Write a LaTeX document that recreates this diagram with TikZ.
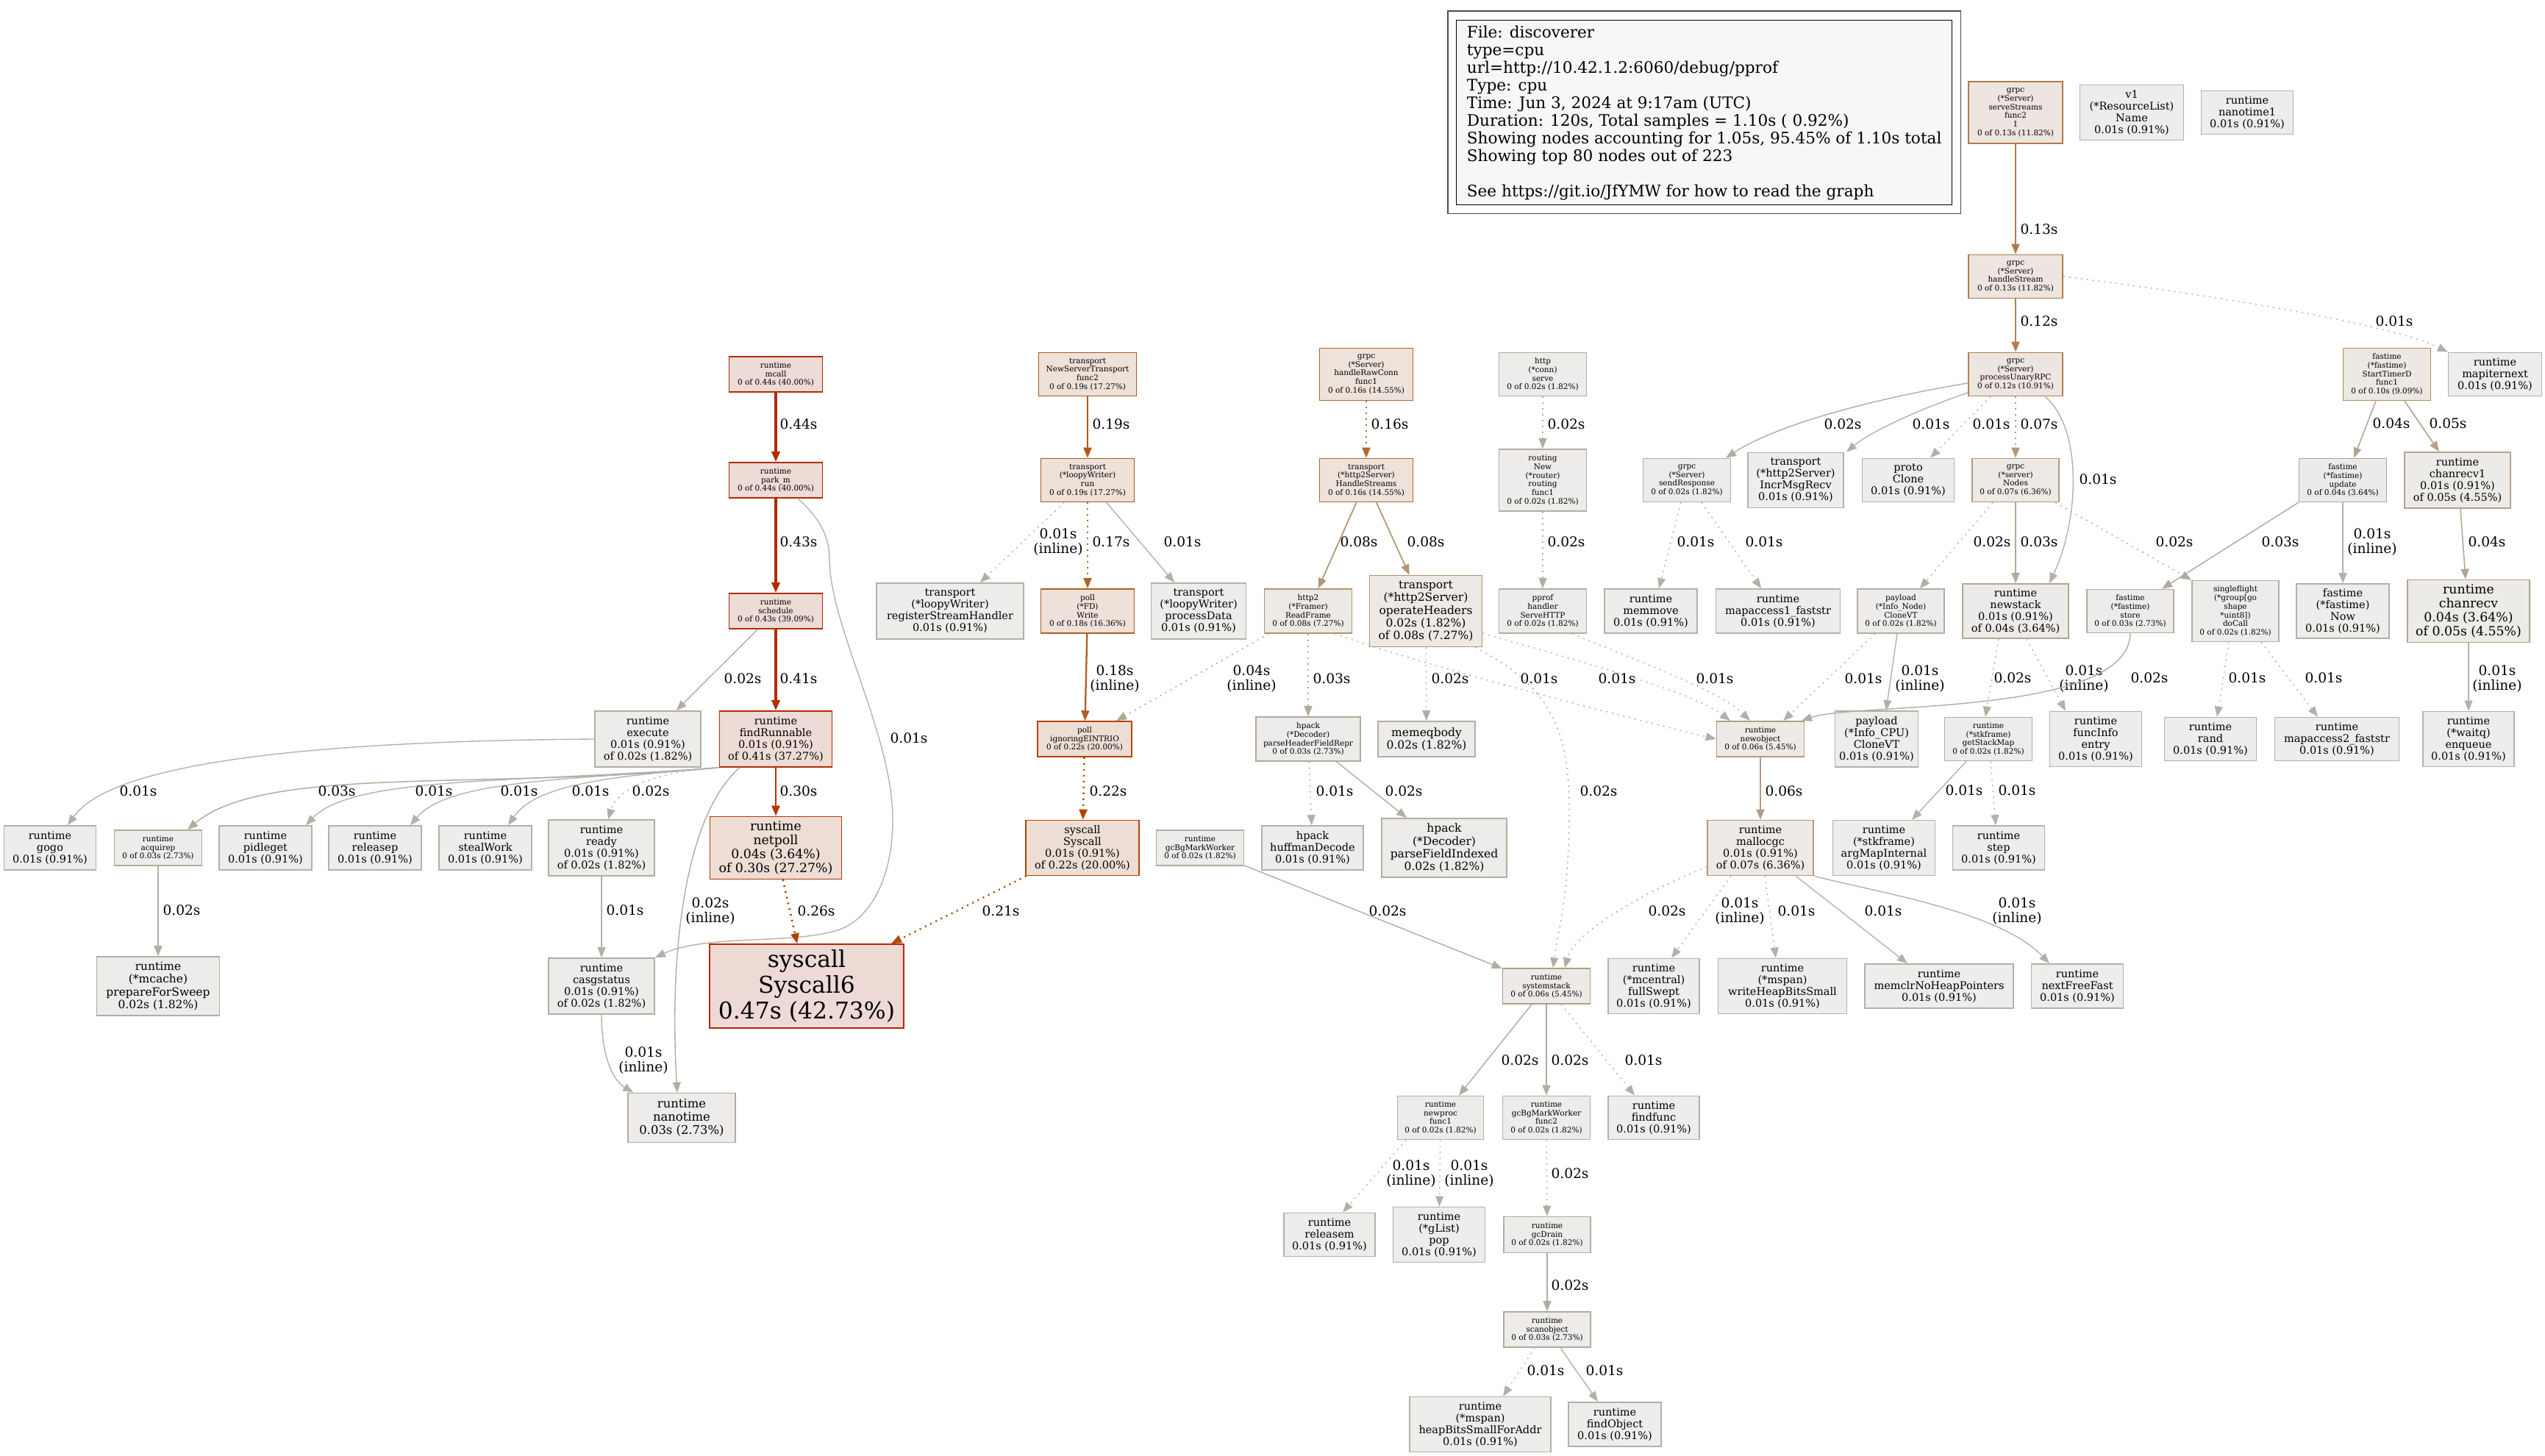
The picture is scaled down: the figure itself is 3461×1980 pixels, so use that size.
\documentclass[tikz,border=0pt]{standalone}
\usepackage{fontspec}
\setmainfont{DejaVu Serif}
\usepackage{xcolor}
\usepackage{tikz}
\usetikzlibrary{arrows.meta}
% heat scale: border / edge colours
\definecolor{fg1}{RGB}{178,176,170}
\definecolor{fg2}{RGB}{178,173,162}
\definecolor{fg3}{RGB}{178,170,154}
\definecolor{fg4}{RGB}{178,166,146}
\definecolor{fg5}{RGB}{178,162,138}
\definecolor{fg6}{RGB}{178,158,130}
\definecolor{fg7}{RGB}{178,153,121}
\definecolor{fg8}{RGB}{178,149,113}
\definecolor{fg10}{RGB}{178,139,97}
\definecolor{fg12}{RGB}{178,128,81}
\definecolor{fg13}{RGB}{178,123,73}
\definecolor{fg16}{RGB}{178,105,48}
\definecolor{fg17}{RGB}{178,99,40}
\definecolor{fg18}{RGB}{178,93,32}
\definecolor{fg19}{RGB}{178,87,24}
\definecolor{fg21}{RGB}{178,75,8}
\definecolor{fg22}{RGB}{178,68,0}
\definecolor{fg26}{RGB}{178,62,0}
\definecolor{fg30}{RGB}{178,57,0}
\definecolor{fg41}{RGB}{178,45,0}
\definecolor{fg43}{RGB}{178,43,0}
\definecolor{fg44}{RGB}{178,42,0}
\definecolor{fg47}{RGB}{178,40,0}
% heat scale: box fills
\definecolor{bg1}{RGB}{237,237,236}
\definecolor{bg2}{RGB}{237,236,235}
\definecolor{bg3}{RGB}{237,236,234}
\definecolor{bg4}{RGB}{237,235,233}
\definecolor{bg5}{RGB}{237,235,232}
\definecolor{bg6}{RGB}{237,234,231}
\definecolor{bg7}{RGB}{237,234,230}
\definecolor{bg8}{RGB}{237,233,228}
\definecolor{bg10}{RGB}{237,232,226}
\definecolor{bg12}{RGB}{237,230,224}
\definecolor{bg13}{RGB}{237,229,223}
\definecolor{bg16}{RGB}{237,227,219}
\definecolor{bg18}{RGB}{237,225,217}
\definecolor{bg19}{RGB}{237,225,216}
\definecolor{bg22}{RGB}{237,222,213}
\definecolor{bg30}{RGB}{237,221,213}
\definecolor{bg41}{RGB}{237,220,213}
\definecolor{bg43}{RGB}{237,219,213}
\definecolor{bg44}{RGB}{237,219,213}
\definecolor{bg47}{RGB}{237,218,213}
\tikzset{
  fn/.style    ={draw=fg#1,fill=bg#1,line width=1.6pt,inner sep=0pt,align=center},
  sz/.style 2 args={minimum width=#1pt,minimum height=#2pt},
  t0/.style    ={font=\fontsize{10.5}{11.8}\selectfont},
  t1/.style    ={font=\fontsize{14.5}{16}\selectfont},
  t2/.style    ={font=\fontsize{15.5}{17.2}\selectfont},
  t3/.style    ={font=\fontsize{16.4}{18.2}\selectfont},
  t4/.style    ={font=\fontsize{17.3}{19.2}\selectfont},
  tbig/.style  ={font=\fontsize{31.4}{35}\selectfont},
  call/.code   ={\pgfmathsetmacro\callw{1.3+0.055*#1}%
                 \tikzset{-{Triangle[length=14pt,width=11pt]},draw=fg#1,line width=\callw pt}},
  resid/.style ={dash pattern=on 2pt off 6pt},
  lbl/.style   ={font=\fontsize{18.6}{20.4}\selectfont,align=center,inner sep=0pt}
}
\begin{document}
\begin{tikzpicture}[x=1pt,y=-1pt]
  \fill[white] (0,0) rectangle (3461,1980);
  \useasboundingbox (0,0) rectangle (3461,1980);
  % --- legend ---
  \node[draw=black,fill=black!3,line width=1.4pt,anchor=north west,minimum width=674pt,
        minimum height=251pt,inner xsep=0pt,inner ysep=5pt,align=left,
        font=\fontsize{21.6}{24}\selectfont] (legend) at (1980,27)
    {File: discoverer\\type=cpu\\url=http://10.42.1.2:6060/debug/pprof\\Type: cpu\\
     Time: Jun 3, 2024 at 9:17am (UTC)\\Duration: 120s, Total samples = 1.10s ( 0.92\%)\\
     Showing nodes accounting for 1.05s, 95.45\% of 1.10s total\\
     Showing top 80 nodes out of 223\\[24pt]See https://git.io/JfYMW for how to read the graph};
  \draw[black!70,line width=1.4pt] ([shift={(-11pt,12pt)}]legend.north west)
    rectangle ([shift={(11pt,-11pt)}]legend.south east);
  % --- scheduler ---
  \node[fn=44,t0,sz={127}{48}] (mcall) at (1055,509) {runtime\\mcall\\0 of 0.44s (40.00\%)};
  \node[fn=44,t0,sz={127}{48}] (parkm) at (1055,653) {runtime\\park\_m\\0 of 0.44s (40.00\%)};
  \node[fn=43,t0,sz={127}{48}] (sched) at (1055,831) {runtime\\schedule\\0 of 0.43s (39.09\%)};
  \node[fn=41,t1,sz={153}{76}] (findrun) at (1055,1005) {runtime\\findRunnable\\0.01s (0.91\%)\\of 0.41s (37.27\%)};
  \node[fn=2,t1,sz={144}{76}] (execute) at (881,1005) {runtime\\execute\\0.01s (0.91\%)\\of 0.02s (1.82\%)};
  \node[fn=1,t1,sz={125}{60}] (gogo) at (68,1153) {runtime\\gogo\\0.01s (0.91\%)};
  \node[fn=3,t0,sz={119}{48}] (acquirep) at (215,1153) {runtime\\acquirep\\0 of 0.03s (2.73\%)};
  \node[fn=1,t1,sz={126}{60}] (pidleget) at (361,1153) {runtime\\pidleget\\0.01s (0.91\%)};
  \node[fn=1,t1,sz={126}{60}] (releasep) at (510,1153) {runtime\\releasep\\0.01s (0.91\%)};
  \node[fn=1,t1,sz={126}{60}] (stealwork) at (660,1153) {runtime\\stealWork\\0.01s (0.91\%)};
  \node[fn=2,t1,sz={144}{76}] (ready) at (818,1153) {runtime\\ready\\0.01s (0.91\%)\\of 0.02s (1.82\%)};
  \node[fn=2,t2,sz={167}{80}] (prepsweep) at (215,1341) {runtime\\(*mcache)\\prepareForSweep\\0.02s (1.82\%)};
  \node[fn=2,t1,sz={144}{76}] (casg) at (818,1341) {runtime\\casgstatus\\0.01s (0.91\%)\\of 0.02s (1.82\%)};
  \node[fn=3,t3,sz={146}{67}] (nanotime) at (927,1520) {runtime\\nanotime\\0.03s (2.73\%)};
  \node[fn=30,t4,sz={179}{85}] (netpoll) at (1055,1153) {runtime\\netpoll\\0.04s (3.64\%)\\of 0.30s (27.27\%)};
  \node[fn=47,tbig,sz={264}{114}] (syscall6) at (1097,1341) {syscall\\Syscall6\\0.47s (42.73\%)};
  % --- loopy writer ---
  \node[fn=19,t0,sz={133}{59}] (nstfunc) at (1479,509) {transport\\NewServerTransport\\func2\\0 of 0.19s (17.27\%)};
  \node[fn=19,t0,sz={127}{59}] (looprun) at (1479,653) {transport\\(*loopyWriter)\\run\\0 of 0.19s (17.27\%)};
  \node[fn=1,t1,sz={200}{76}] (regstream) at (1292,831) {transport\\(*loopyWriter)\\registerStreamHandler\\0.01s (0.91\%)};
  \node[fn=18,t0,sz={127}{60}] (fdwrite) at (1479,831) {poll\\(*FD)\\Write\\0 of 0.18s (16.36\%)};
  \node[fn=1,t1,sz={129}{76}] (procdata) at (1630,831) {transport\\(*loopyWriter)\\processData\\0.01s (0.91\%)};
  \node[fn=22,t0,sz={128}{48}] (eintr) at (1475,1005) {poll\\ignoringEINTRIO\\0 of 0.22s (20.00\%)};
  \node[fn=22,t1,sz={154}{75}] (syscallsc) at (1472,1153) {syscall\\Syscall\\0.01s (0.91\%)\\of 0.22s (20.00\%)};
  \node[fn=2,t0,sz={119}{48}] (bgmark) at (1632,1153) {runtime\\gcBgMarkWorker\\0 of 0.02s (1.82\%)};
  % --- http2 server ---
  \node[fn=16,t0,sz={127}{71}] (rawconn) at (1858,509) {grpc\\(*Server)\\handleRawConn\\func1\\0 of 0.16s (14.55\%)};
  \node[fn=16,t0,sz={127}{59}] (hstreams) at (1858,653) {transport\\(*http2Server)\\HandleStreams\\0 of 0.16s (14.55\%)};
  \node[fn=8,t0,sz={119}{60}] (readframe) at (1779,831) {http2\\(*Framer)\\ReadFrame\\0 of 0.08s (7.27\%)};
  \node[fn=8,t2,sz={153}{97}] (opheaders) at (1939,831) {transport\\(*http2Server)\\operateHeaders\\0.02s (1.82\%)\\of 0.08s (7.27\%)};
  \node[fn=2,t0,sz={119}{59}] (connserve) at (2098,509) {http\\(*conn)\\serve\\0 of 0.02s (1.82\%)};
  \node[fn=2,t0,sz={119}{84}] (routing) at (2098,653) {routing\\New\\(*router)\\routing\\func1\\0 of 0.02s (1.82\%)};
  \node[fn=2,t0,sz={119}{60}] (servehttp) at (2098,831) {pprof\\handler\\ServeHTTP\\0 of 0.02s (1.82\%)};
  \node[fn=3,t0,sz={142}{60}] (parserepr) at (1779,1005) {hpack\\(*Decoder)\\parseHeaderFieldRepr\\0 of 0.03s (2.73\%)};
  \node[fn=2,t2,sz={132}{48}] (memeq) at (1940,1005) {memeqbody\\0.02s (1.82\%)};
  \node[fn=1,t1,sz={138}{60}] (huffman) at (1785,1153) {hpack\\huffmanDecode\\0.01s (0.91\%)};
  \node[fn=2,t2,sz={170}{80}] (parseidx) at (1964,1153) {hpack\\(*Decoder)\\parseFieldIndexed\\0.02s (1.82\%)};
  % --- allocation / gc ---
  \node[fn=6,t0,sz={119}{48}] (newobj) at (2394,1005) {runtime\\newobject\\0 of 0.06s (5.45\%)};
  \node[fn=7,t1,sz={144}{75}] (malloc) at (2394,1153) {runtime\\mallocgc\\0.01s (0.91\%)\\of 0.07s (6.36\%)};
  \node[fn=6,t0,sz={119}{48}] (sysstack) at (2103,1341) {runtime\\systemstack\\0 of 0.06s (5.45\%)};
  \node[fn=1,t1,sz={124}{75}] (fullswept) at (2249,1341) {runtime\\(*mcentral)\\fullSwept\\0.01s (0.91\%)};
  \node[fn=1,t1,sz={175}{75}] (wheapbits) at (2424,1341) {runtime\\(*mspan)\\writeHeapBitsSmall\\0.01s (0.91\%)};
  \node[fn=1,t1,sz={202}{60}] (memclr) at (2637,1341) {runtime\\memclrNoHeapPointers\\0.01s (0.91\%)};
  \node[fn=1,t1,sz={125}{60}] (nextfree) at (2825,1341) {runtime\\nextFreeFast\\0.01s (0.91\%)};
  \node[fn=2,t0,sz={117}{59}] (newproc) at (1959,1520) {runtime\\newproc\\func1\\0 of 0.02s (1.82\%)};
  \node[fn=2,t0,sz={119}{59}] (bgmark2) at (2103,1520) {runtime\\gcBgMarkWorker\\func2\\0 of 0.02s (1.82\%)};
  \node[fn=1,t1,sz={124}{59}] (findfunc) at (2249,1520) {runtime\\findfunc\\0.01s (0.91\%)};
  \node[fn=1,t1,sz={124}{59}] (releasem) at (1808,1679) {runtime\\releasem\\0.01s (0.91\%)};
  \node[fn=1,t1,sz={125}{75}] (glistpop) at (1957,1679) {runtime\\(*gList)\\pop\\0.01s (0.91\%)};
  \node[fn=2,t0,sz={118}{49}] (gcdrain) at (2104,1679) {runtime\\gcDrain\\0 of 0.02s (1.82\%)};
  \node[fn=3,t0,sz={118}{48}] (scanobj) at (2104,1808) {runtime\\scanobject\\0 of 0.03s (2.73\%)};
  \node[fn=1,t1,sz={192}{75}] (heapaddr) at (2013,1937) {runtime\\(*mspan)\\heapBitsSmallForAddr\\0.01s (0.91\%)};
  \node[fn=1,t1,sz={126}{60}] (findobj) at (2196,1937) {runtime\\findObject\\0.01s (0.91\%)};
  % --- grpc server ---
  \node[fn=13,t0,sz={128}{84}] (servestreams) at (2741,153) {grpc\\(*Server)\\serveStreams\\func2\\1\\0 of 0.13s (11.82\%)};
  \node[fn=1,t1,sz={141}{75}] (resname) at (2899,153) {v1\\(*ResourceList)\\Name\\0.01s (0.91\%)};
  \node[fn=1,t1,sz={125}{59}] (nanotime1) at (3056,153) {runtime\\nanotime1\\0.01s (0.91\%)};
  \node[fn=13,t0,sz={128}{59}] (hstream) at (2741,376) {grpc\\(*Server)\\handleStream\\0 of 0.13s (11.82\%)};
  \node[fn=12,t0,sz={128}{59}] (unaryrpc) at (2741,509) {grpc\\(*Server)\\processUnaryRPC\\0 of 0.12s (10.91\%)};
  \node[fn=2,t0,sz={119}{59}] (sendresp) at (2294,653) {grpc\\(*Server)\\sendResponse\\0 of 0.02s (1.82\%)};
  \node[fn=1,t1,sz={130}{75}] (incrmsg) at (2442,653) {transport\\(*http2Server)\\IncrMsgRecv\\0.01s (0.91\%)};
  \node[fn=1,t1,sz={125}{59}] (protoclone) at (2595,653) {proto\\Clone\\0.01s (0.91\%)};
  \node[fn=1,t1,sz={126}{60}] (memmove) at (2245,831) {runtime\\memmove\\0.01s (0.91\%)};
  \node[fn=1,t1,sz={169}{60}] (mapacc1) at (2418,831) {runtime\\mapaccess1\_faststr\\0.01s (0.91\%)};
  \node[fn=2,t0,sz={118}{60}] (infonode) at (2585,831) {payload\\(*Info\_Node)\\CloneVT\\0 of 0.02s (1.82\%)};
  \node[fn=1,t1,sz={113}{76}] (infocpu) at (2552,1005) {payload\\(*Info\_CPU)\\CloneVT\\0.01s (0.91\%)};
  \node[fn=1,t1,sz={139}{75}] (argmap) at (2562,1153) {runtime\\(*stkframe)\\argMapInternal\\0.01s (0.91\%)};
  \node[fn=7,t0,sz={118}{59}] (nodes) at (2741,653) {grpc\\(*server)\\Nodes\\0 of 0.07s (6.36\%)};
  \node[fn=4,t1,sz={144}{74}] (newstack) at (2741,831) {runtime\\newstack\\0.01s (0.91\%)\\of 0.04s (3.64\%)};
  \node[fn=2,t0,sz={119}{59}] (stackmap) at (2704,1005) {runtime\\(*stkframe)\\getStackMap\\0 of 0.02s (1.82\%)};
  \node[fn=1,t1,sz={125}{75}] (funcinfo) at (2850,1005) {runtime\\funcInfo\\entry\\0.01s (0.91\%)};
  \node[fn=1,t1,sz={125}{60}] (step) at (2718,1153) {runtime\\step\\0.01s (0.91\%)};
  % --- fastime / singleflight ---
  \node[fn=10,t0,sz={119}{71}] (timerd) at (3246,509) {fastime\\(*fastime)\\StartTimerD\\func1\\0 of 0.10s (9.09\%)};
  \node[fn=1,t1,sz={127}{59}] (mapiter) at (3393,509) {runtime\\mapiternext\\0.01s (0.91\%)};
  \node[fn=4,t0,sz={119}{59}] (fupdate) at (3186,653) {fastime\\(*fastime)\\update\\0 of 0.04s (3.64\%)};
  \node[fn=5,t1,sz={144}{76}] (chanrecv1) at (3342,653) {runtime\\chanrecv1\\0.01s (0.91\%)\\of 0.05s (4.55\%)};
  \node[fn=3,t0,sz={118}{59}] (fstore) at (2897,831) {fastime\\(*fastime)\\store\\0 of 0.03s (2.73\%)};
  \node[fn=2,t0,sz={118}{83}] (docall) at (3040,831) {singleflight\\(*group[go\\shape\\{}*uint8])\\doCall\\0 of 0.02s (1.82\%)};
  \node[fn=1,t1,sz={126}{74}] (fnow) at (3186,831) {fastime\\(*fastime)\\Now\\0.01s (0.91\%)};
  \node[fn=5,t4,sz={166}{85}] (chanrecv) at (3357,831) {runtime\\chanrecv\\0.04s (3.64\%)\\of 0.05s (4.55\%)};
  \node[fn=1,t1,sz={125}{59}] (rand) at (3006,1005) {runtime\\rand\\0.01s (0.91\%)};
  \node[fn=1,t1,sz={169}{59}] (mapacc2) at (3178,1005) {runtime\\mapaccess2\_faststr\\0.01s (0.91\%)};
  \node[fn=1,t1,sz={124}{75}] (enqueue) at (3357,1005) {runtime\\(*waitq)\\enqueue\\0.01s (0.91\%)};

  % --- scheduler edges ---
  \draw[call=44] (mcall) -- (parkm) node[lbl] at (1086,577) {0.44s};
  \draw[call=43] (parkm) -- (sched) node[lbl] at (1086,737) {0.43s};
  \draw[call=1] ([xshift=30pt]parkm.south) .. controls (1115,705) and (1128,730) .. (1128,760)
    .. controls (1128,850) and (1214,1000) .. (1214,1114)
    .. controls (1214,1200) and (1180,1250) .. (1142,1264)
    .. controls (1080,1285) and (960,1270) .. (casg.north east)
    node[lbl] at (1236,1004) {0.01s};
  \draw[call=41] (sched) -- (findrun) node[lbl] at (1086,923) {0.41s};
  \draw[call=2] (sched) -- (execute) node[lbl] at (1010,923) {0.02s};
  \draw[call=1] (execute.west) .. controls (400,1008) and (150,1040) .. ([xshift=24pt]gogo.north)
    node[lbl] at (188,1076) {0.01s};
  \draw[call=3] (findrun.south west) .. controls (650,1075) and (360,1040) .. ([xshift=40pt]acquirep.north)
    node[lbl] at (458,1076) {0.03s};
  \draw[call=1] (findrun.south west) .. controls (700,1065) and (480,1055) .. ([xshift=55pt]pidleget.north)
    node[lbl] at (590,1076) {0.01s};
  \draw[call=1] (findrun.south west) .. controls (780,1060) and (610,1060) .. ([xshift=48pt]releasep.north)
    node[lbl] at (706,1076) {0.01s};
  \draw[call=1] (findrun.south west) .. controls (840,1055) and (730,1065) .. ([xshift=31pt]stealwork.north)
    node[lbl] at (803,1076) {0.01s};
  \draw[call=2,resid] (findrun.south west) .. controls (900,1048) and (840,1070) .. ([xshift=9pt]ready.north)
    node[lbl] at (885,1076) {0.02s};
  \draw[call=30] (findrun) -- (netpoll) node[lbl] at (1086,1076) {0.30s};
  \draw[call=2] ([xshift=-49pt]findrun.south) .. controls (930,1110) and (910,1300) .. ([xshift=-6pt]nanotime.north)
    node[lbl] at (966,1239) {0.02s\\(inline)};
  \draw[call=2] (acquirep) -- (prepsweep) node[lbl] at (247,1238) {0.02s};
  \draw[call=1] (ready) -- (casg) node[lbl] at (850,1238) {0.01s};
  \draw[call=1] (casg.south) .. controls (818,1440) and (835,1470) .. ([xshift=8pt]nanotime.north west)
    node[lbl] at (875,1442) {0.01s\\(inline)};
  \draw[call=26,resid] (netpoll) -- (syscall6) node[lbl] at (1110,1239) {0.26s};
  \draw[call=21,resid] (syscallsc) -- (syscall6) node[lbl] at (1361,1239) {0.21s};
  % --- loopy writer edges ---
  \draw[call=19] (nstfunc) -- (looprun) node[lbl] at (1511,577) {0.19s};
  \draw[call=1,resid] (looprun) -- (regstream) node[lbl] at (1439,737) {0.01s\\(inline)};
  \draw[call=17,resid] (looprun) -- (fdwrite) node[lbl] at (1511,737) {0.17s};
  \draw[call=1] (looprun) -- (procdata) node[lbl] at (1608,737) {0.01s};
  \draw[call=18] (fdwrite) -- (eintr) node[lbl] at (1516,923) {0.18s\\(inline)};
  \draw[call=22,resid] (eintr) -- (syscallsc) node[lbl] at (1507,1076) {0.22s};
  \draw[call=4,resid] (readframe) -- (eintr) node[lbl] at (1702,923) {0.04s\\(inline)};
  % --- http2 edges ---
  \draw[call=16,resid] (rawconn) -- (hstreams) node[lbl] at (1890,577) {0.16s};
  \draw[call=8] (hstreams) -- (readframe) node[lbl] at (1848,737) {0.08s};
  \draw[call=8] (hstreams) -- (opheaders) node[lbl] at (1939,737) {0.08s};
  \draw[call=3,resid] (readframe) -- (parserepr) node[lbl] at (1811,923) {0.03s};
  \draw[call=1,resid] ([xshift=36pt]readframe.south) .. controls (1950,910) and (2250,985) .. (newobj.west)
    node[lbl] at (2093,923) {0.01s};
  \draw[call=2,resid] (opheaders) -- (memeq) node[lbl] at (1972,923) {0.02s};
  \draw[call=1,resid] ([yshift=-30pt]opheaders.east) .. controls (2150,900) and (2300,940) .. ([xshift=-41pt]newobj.north)
    node[lbl] at (2199,923) {0.01s};
  \draw[call=2,resid] ([xshift=-10pt]opheaders.south east) .. controls (2100,930) and (2134,980) .. (2134,1100)
    .. controls (2134,1220) and (2118,1270) .. ([xshift=9pt]sysstack.north)
    node[lbl] at (2174,1076) {0.02s};
  \draw[call=2,resid] (connserve) -- (routing) node[lbl] at (2130,577) {0.02s};
  \draw[call=2,resid] (routing) -- (servehttp) node[lbl] at (2130,737) {0.02s};
  \draw[call=1,resid] ([xshift=40pt]servehttp.south) .. controls (2230,900) and (2340,940) .. ([xshift=-14pt]newobj.north)
    node[lbl] at (2332,923) {0.01s};
  \draw[call=1,resid] (parserepr) -- (huffman) node[lbl] at (1815,1076) {0.01s};
  \draw[call=2] (parserepr) -- (parseidx) node[lbl] at (1909,1076) {0.02s};
  % --- allocation / gc edges ---
  \draw[call=2] (bgmark) -- (sysstack) node[lbl] at (1887,1239) {0.02s};
  \draw[call=6] (newobj) -- (malloc) node[lbl] at (2426,1076) {0.06s};
  \draw[call=2,resid] ([yshift=-26pt]malloc.west) .. controls (2230,1215) and (2140,1270) .. ([xshift=25pt]sysstack.north)
    node[lbl] at (2267,1239) {0.02s};
  \draw[call=1,resid] ([xshift=-40pt]malloc.south) -- ([xshift=24pt]fullswept.north)
    node[lbl] at (2366,1239) {0.01s\\(inline)};
  \draw[call=1,resid] ([xshift=6pt]malloc.south) -- ([xshift=-9pt]wheapbits.north)
    node[lbl] at (2443,1239) {0.01s};
  \draw[call=1] ([xshift=48pt]malloc.south) -- ([xshift=-43pt]memclr.north)
    node[lbl] at (2561,1239) {0.01s};
  \draw[call=1] (malloc.south east) .. controls (2560,1215) and (2720,1240) .. ([xshift=-38pt]nextfree.north)
    node[lbl] at (2743,1239) {0.01s\\(inline)};
  \draw[call=2] ([xshift=-20pt]sysstack.south) -- ([xshift=25pt]newproc.north)
    node[lbl] at (2067,1442) {0.02s};
  \draw[call=2] (sysstack) -- (bgmark2) node[lbl] at (2135,1442) {0.02s};
  \draw[call=1,resid] ([xshift=20pt]sysstack.south) -- ([xshift=-26pt]findfunc.north)
    node[lbl] at (2235,1442) {0.01s};
  \draw[call=1,resid] ([xshift=-47pt]newproc.south) -- ([xshift=18pt]releasem.north)
    node[lbl] at (1919,1596) {0.01s\\(inline)};
  \draw[call=1,resid] (newproc) -- (glistpop) node[lbl] at (1998,1596) {0.01s\\(inline)};
  \draw[call=2,resid] (bgmark2) -- (gcdrain) node[lbl] at (2135,1596) {0.02s};
  \draw[call=2] (gcdrain) -- (scanobj) node[lbl] at (2135,1748) {0.02s};
  \draw[call=1,resid] ([xshift=-17pt]scanobj.south) -- ([xshift=31pt]heapaddr.north)
    node[lbl] at (2102,1864) {0.01s};
  \draw[call=1] ([xshift=18pt]scanobj.south) -- ([xshift=-23pt]findobj.north)
    node[lbl] at (2182,1864) {0.01s};
  % --- grpc edges ---
  \draw[call=13] (servestreams) -- (hstream) node[lbl] at (2773,312) {0.13s};
  \draw[call=12] (hstream) -- (unaryrpc) node[lbl] at (2773,437) {0.12s};
  \draw[call=1,resid] (hstream.east) .. controls (3000,400) and (3250,440) .. (mapiter.north west)
    node[lbl] at (3256,437) {0.01s};
  \draw[call=2] ([yshift=-12pt]unaryrpc.west) .. controls (2560,540) and (2420,575) .. ([xshift=53pt]sendresp.north)
    node[lbl] at (2506,577) {0.02s};
  \draw[call=1] ([yshift=-25pt]unaryrpc.west) .. controls (2600,560) and (2540,590) .. ([xshift=69pt]incrmsg.north)
    node[lbl] at (2626,577) {0.01s};
  \draw[call=1,resid] ([xshift=-34pt]unaryrpc.south) -- ([xshift=30pt]protoclone.north)
    node[lbl] at (2708,577) {0.01s};
  \draw[call=7,resid] (unaryrpc) -- (nodes) node[lbl] at (2773,577) {0.07s};
  \draw[call=1] ([xshift=40pt]unaryrpc.south) .. controls (2830,580) and (2830,700) .. ([xshift=46pt]newstack.north)
    node[lbl] at (2853,652) {0.01s};
  \draw[call=1,resid] ([xshift=-8pt]sendresp.south) -- ([xshift=11pt]memmove.north)
    node[lbl] at (2306,737) {0.01s};
  \draw[call=1,resid] ([xshift=20pt]sendresp.south) -- ([xshift=-23pt]mapacc1.north)
    node[lbl] at (2399,737) {0.01s};
  \draw[call=2,resid] ([xshift=-31pt]nodes.south) -- ([xshift=26pt]infonode.north)
    node[lbl] at (2709,737) {0.02s};
  \draw[call=3] (nodes) -- (newstack) node[lbl] at (2773,737) {0.03s};
  \draw[call=2,resid] ([xshift=54pt]nodes.south) -- (docall.north west)
    node[lbl] at (2957,737) {0.02s};
  \draw[call=1,resid] ([xshift=-35pt]infonode.south) -- ([xshift=31pt]newobj.north)
    node[lbl] at (2534,923) {0.01s};
  \draw[call=1] ([xshift=-5pt]infonode.south) -- ([xshift=13pt]infocpu.north)
    node[lbl] at (2611,923) {0.01s\\(inline)};
  \draw[call=2,resid] ([xshift=-23pt]newstack.south) -- ([xshift=-4pt]stackmap.north)
    node[lbl] at (2737,922) {0.02s};
  \draw[call=1,resid] ([xshift=15pt]newstack.south) -- ([xshift=-41pt]funcinfo.north)
    node[lbl] at (2834,923) {0.01s\\(inline)};
  \draw[call=1] ([xshift=-30pt]stackmap.south) -- ([xshift=38pt]argmap.north)
    node[lbl] at (2671,1075) {0.01s};
  \draw[call=1,resid] ([xshift=3pt]stackmap.south) -- ([xshift=-4pt]step.north)
    node[lbl] at (2743,1075) {0.01s};
  % --- fastime edges ---
  \draw[call=4] ([xshift=-15pt]timerd.south) -- ([xshift=15pt]fupdate.north)
    node[lbl] at (3252,576) {0.04s};
  \draw[call=5] ([xshift=24pt]timerd.south) -- ([xshift=-25pt]chanrecv1.north)
    node[lbl] at (3329,576) {0.05s};
  \draw[call=3] (fupdate.south west) -- ([xshift=43pt]fstore.north)
    node[lbl] at (3101,737) {0.03s};
  \draw[call=1] (fupdate) -- (fnow) node[lbl] at (3226,737) {0.01s\\(inline)};
  \draw[call=4] ([xshift=4pt]chanrecv1.south) -- ([xshift=-4pt]chanrecv.north)
    node[lbl] at (3382,737) {0.04s};
  \draw[call=1] (chanrecv) -- (enqueue) node[lbl] at (3396,923) {0.01s\\(inline)};
  \draw[call=2] (fstore.south) .. controls (2895,975) and (2520,955) .. ([xshift=56pt]newobj.north)
    node[lbl] at (2923,922) {0.02s};
  \draw[call=1,resid] ([xshift=-9pt]docall.south) -- ([xshift=9pt]rand.north)
    node[lbl] at (3056,922) {0.01s};
  \draw[call=1,resid] ([xshift=35pt]docall.south) -- ([xshift=-26pt]mapacc2.north)
    node[lbl] at (3160,922) {0.01s};
\end{tikzpicture}
\end{document}
